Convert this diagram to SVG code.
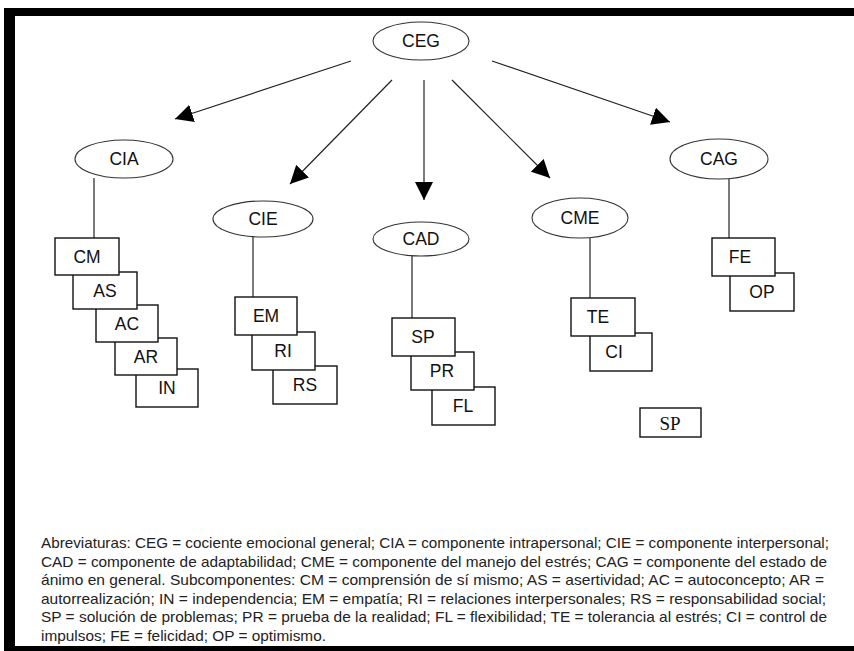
<svg xmlns="http://www.w3.org/2000/svg" width="854" height="651" viewBox="0 0 854 651">
<style>
.ell{fill:#fff;stroke:#333;stroke-width:1.1}
.box{fill:#fff;stroke:#111;stroke-width:1.4}
.lbl{font-family:"Liberation Sans",Arial,sans-serif;font-size:17.5px;fill:#111;text-anchor:middle}
.stem{stroke:#222;stroke-width:1.2;fill:none}
.arr{stroke:#222;stroke-width:1.2;fill:none;marker-end:url(#ah)}
.cap{font-family:"Liberation Sans",Arial,sans-serif;font-size:14.3px;fill:#222}
</style>
<defs>
<marker id="ah" viewBox="0 0 18 18" refX="18" refY="9" markerWidth="18" markerHeight="18" orient="auto" markerUnits="userSpaceOnUse">
<path d="M0,0 L18,9 L0,18 z" fill="#000"/>
</marker>
</defs>
<rect x="0" y="0" width="854" height="651" fill="#fff"/>
<g id="frame" fill="#000">
<rect x="4" y="8" width="850" height="8"/>
<rect x="4" y="8" width="11" height="643"/>
<rect x="4" y="646" width="850" height="5"/>
</g>
<g id="connectors">
<path class="arr" d="M351,61 L175,119"/>
<path class="arr" d="M392,80 L290,184"/>
<path class="arr" d="M424,80 L424,200"/>
<path class="arr" d="M452,80 L550,178"/>
<path class="arr" d="M492,61 L670,122"/>
<path class="stem" d="M94,178 V238"/>
<path class="stem" d="M253,237 V297"/>
<path class="stem" d="M412,256 V318"/>
<path class="stem" d="M590,238 V298"/>
<path class="stem" d="M729,179 V238"/>
</g>
<g id="CEG"><ellipse class="ell" cx="421" cy="41" rx="48" ry="19"/><text class="lbl" x="421" y="47">CEG</text></g>
<g id="CIA"><ellipse class="ell" cx="124" cy="159" rx="49" ry="19"/><text class="lbl" x="124" y="165">CIA</text></g>
<g id="CIE"><ellipse class="ell" cx="263" cy="219" rx="50" ry="18"/><text class="lbl" x="263" y="225">CIE</text></g>
<g id="CAD"><ellipse class="ell" cx="421" cy="239" rx="48" ry="17"/><text class="lbl" x="421" y="245">CAD</text></g>
<g id="CME"><ellipse class="ell" cx="580" cy="218" rx="48" ry="20"/><text class="lbl" x="580" y="224">CME</text></g>
<g id="CAG"><ellipse class="ell" cx="719" cy="159" rx="49" ry="20"/><text class="lbl" x="719" y="165">CAG</text></g>

<g id="IN"><rect class="box" x="136" y="369" width="62" height="38"/><text class="lbl" x="167" y="394">IN</text></g>
<g id="AR"><rect class="box" x="115" y="338" width="62" height="37"/><text class="lbl" x="146" y="363">AR</text></g>
<g id="AC"><rect class="box" x="96" y="305" width="62" height="37"/><text class="lbl" x="127" y="330">AC</text></g>
<g id="AS"><rect class="box" x="73" y="272" width="64" height="37"/><text class="lbl" x="105" y="297">AS</text></g>
<g id="CM"><rect class="box" x="55" y="238" width="64" height="37"/><text class="lbl" x="87" y="263">CM</text></g>

<g id="RS"><rect class="box" x="273" y="366" width="64" height="38"/><text class="lbl" x="305" y="391">RS</text></g>
<g id="RI"><rect class="box" x="252" y="332" width="63" height="38"/><text class="lbl" x="283" y="357">RI</text></g>
<g id="EM"><rect class="box" x="235" y="297" width="62" height="38"/><text class="lbl" x="266" y="322">EM</text></g>

<g id="FL"><rect class="box" x="432" y="387" width="63" height="38"/><text class="lbl" x="463" y="412">FL</text></g>
<g id="PR"><rect class="box" x="411" y="352" width="63" height="38"/><text class="lbl" x="442" y="377">PR</text></g>
<g id="SP"><rect class="box" x="392" y="318" width="63" height="38"/><text class="lbl" x="423" y="343">SP</text></g>

<g id="CI"><rect class="box" x="590" y="333" width="62" height="38"/><text class="lbl" x="614" y="358">CI</text></g>
<g id="TE"><rect class="box" x="571" y="298" width="64" height="38"/><text class="lbl" x="598" y="323">TE</text></g>

<g id="OP"><rect class="box" x="730" y="273" width="64" height="38"/><text class="lbl" x="762" y="298">OP</text></g>
<g id="FE"><rect class="box" x="712" y="238" width="63" height="38"/><text class="lbl" x="740" y="263">FE</text></g>

<g id="SP2"><rect class="box" x="640" y="408" width="61" height="29"/><text x="670" y="430" text-anchor="middle" font-family="'Liberation Serif','Times New Roman',serif" font-size="19" fill="#111">SP</text></g>

<g id="caption" class="cap">
<text x="41" y="548" textLength="788" lengthAdjust="spacingAndGlyphs">Abreviaturas: CEG = cociente emocional general; CIA = componente intrapersonal; CIE = componente interpersonal;</text>
<text x="41" y="566.5" textLength="786" lengthAdjust="spacingAndGlyphs">CAD = componente de adaptabilidad; CME = componente del manejo del estrés; CAG = componente del estado de</text>
<text x="41" y="585" textLength="783" lengthAdjust="spacingAndGlyphs">ánimo en general. Subcomponentes: CM = comprensión de sí mismo; AS = asertividad; AC = autoconcepto; AR =</text>
<text x="41" y="603.5" textLength="785" lengthAdjust="spacingAndGlyphs">autorrealización; IN = independencia; EM = empatía; RI = relaciones interpersonales; RS = responsabilidad social;</text>
<text x="41" y="622" textLength="786" lengthAdjust="spacingAndGlyphs">SP = solución de problemas; PR = prueba de la realidad; FL = flexibilidad; TE = tolerancia al estrés; CI = control de</text>
<text x="41" y="640.5" textLength="285" lengthAdjust="spacingAndGlyphs">impulsos; FE = felicidad; OP = optimismo.</text>
</g>
</svg>
